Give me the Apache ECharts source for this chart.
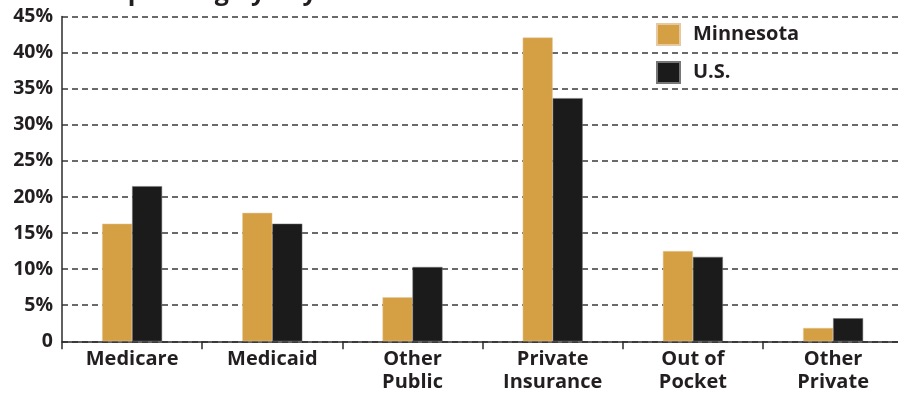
<!DOCTYPE html>
<html>
<head>
<meta charset="utf-8">
<script src="https://cdn.jsdelivr.net/npm/echarts@6/dist/echarts.min.js"></script>
<style>
  html, body { margin: 0; padding: 0; background: #ffffff; }
  #chart { width: 898px; height: 396px; }
</style>
</head>
<body>
<div id="chart"></div>
<script>
// Share of health spending by payer, Minnesota vs. U.S. (percent)
const categories = ['Medicare', 'Medicaid', 'Other\nPublic', 'Private\nInsurance', 'Out of\nPocket', 'Other\nPrivate'];
const minnesota = [16.3, 17.8, 6.1, 42.1, 12.5, 1.85];
const us = [21.5, 16.3, 10.3, 33.7, 11.7, 3.2];
const seriesNames = ['Minnesota', 'U.S.'];
const yMax = 45;
const yStep = 5;

const FONT = '"Open Sans", "Noto Sans", sans-serif';
const GOLD = '#d5a043';
const BLACK = '#1b1b1b';

const chart = echarts.init(document.getElementById('chart'), null, { renderer: 'canvas' });

chart.setOption({
  animation: false,
  backgroundColor: '#ffffff',
  title: {
    text: 'Spending by Payer',
    left: 114,
    top: -20,
    padding: 0,
    textStyle: { fontFamily: FONT, fontWeight: 'bold', fontSize: 25, color: '#231f20' }
  },
  legend: {
    orient: 'vertical',
    left: 656,
    top: 23,
    padding: 0,
    itemWidth: 23,
    itemHeight: 21,
    itemGap: 15,
    icon: 'rect',
    data: seriesNames,
    textStyle: { fontFamily: FONT, fontWeight: 'bold', fontSize: 20, color: '#231f20', padding: [0, 0, 0, 8] }
  },
  // plot area runs slightly past the right edge of the canvas
  grid: { left: 62, right: -5.2, top: 16.6, bottom: 54.7, containLabel: false, outerBoundsMode: 'none' },
  xAxis: {
    type: 'category',
    data: categories,
    axisLine: { lineStyle: { color: '#2b2b2b', width: 1.5 } },
    axisTick: { show: true, alignWithLabel: false, length: 8, lineStyle: { color: '#2b2b2b', width: 1.5 } },
    axisLabel: {
      interval: 0, margin: 6,
      fontFamily: FONT, fontWeight: 'bold', fontSize: 20, lineHeight: 23, color: '#231f20'
    }
  },
  yAxis: {
    type: 'value',
    min: 0, max: yMax, interval: yStep,
    axisLine: { show: true, lineStyle: { color: '#2b2b2b', width: 1.5 } },
    axisTick: { show: false },
    splitLine: { show: true, lineStyle: { color: '#3a3a3a', type: [6, 4], width: 1.5 } },
    axisLabel: {
      margin: 9,
      fontFamily: FONT, fontWeight: 'bold', fontSize: 19.5, color: '#231f20',
      formatter: v => (v === 0 ? '0' : v + '%')
    }
  },
  series: [
    {
      name: seriesNames[0], type: 'bar', data: minnesota,
      barWidth: 30, barGap: '0%',
      itemStyle: { color: GOLD, borderColor: '#e6c9a0', borderWidth: 0.5 }
    },
    {
      name: seriesNames[1], type: 'bar', data: us,
      barWidth: 30, barGap: '0%',
      itemStyle: { color: BLACK, borderColor: '#777777', borderWidth: 0.5 }
    }
  ]
});
</script>
</body>
</html>
